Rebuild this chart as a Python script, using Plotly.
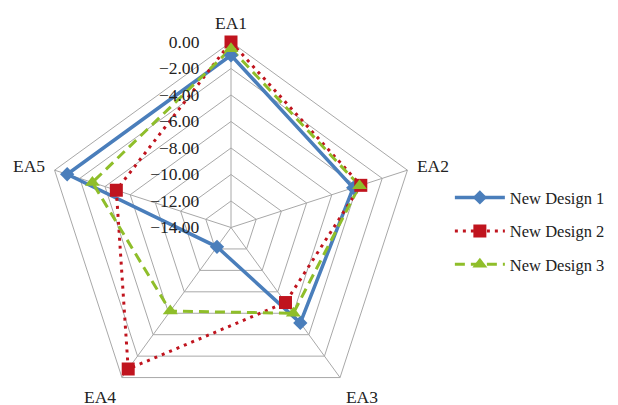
import plotly.graph_objects as go

categories = ["EA1", "EA2", "EA3", "EA4", "EA5"]
design1 = [-1.0, -4.3, -5.1, -12.2, -1.0]
design2 = [0.0, -3.7, -7.0, -0.8, -4.9]
design3 = [-0.5, -3.8, -6.0, -6.2, -3.0]
series_names = ["New Design 1", "New Design 2", "New Design 3"]
tick_vals = [0, -2, -4, -6, -8, -10, -12, -14]
r_range = [-14, 0]

FONT = "'Liberation Serif', 'Times New Roman', serif"
FS = 17.5
GRID = "#a8a8a8"

def closed(v):
    return list(v) + [v[0]]

styles = [
    dict(color="#4a7ebb", dash="solid", width=3.5, symbol="diamond", msize=11),
    dict(color="#c0141e", dash="3px,5px", width=3, symbol="square", msize=13),
    dict(color="#8fbe2a", dash="10px,6px", width=3, symbol="triangle-up", msize=13),
]

fig = go.Figure()
# lines on the pentagon-grid polar
for i, (name, vals, st) in enumerate(zip(series_names, [design1, design2, design3], styles)):
    fig.add_trace(go.Scatterpolar(
        r=closed(vals), theta=closed(categories), name=name,
        mode="lines+markers", legendgroup=f"g{i}",
        line=dict(color=st["color"], dash=st["dash"], width=st["width"]),
        marker=dict(symbol=st["symbol"], size=st["msize"], color=st["color"]),
    ))
# markers on an overlaid transparent polar with the same domain and scale
for i, (name, vals, st) in enumerate(zip(series_names, [design1, design2, design3], styles)):
    fig.add_trace(go.Scatterpolar(
        r=vals, theta=categories, name=name, subplot="polar2",
        mode="markers", legendgroup=f"g{i}", showlegend=False, cliponaxis=False,
        marker=dict(symbol=st["symbol"], size=st["msize"], color=st["color"]),
    ))

domain = dict(x=[0, 446 / 618], y=[0, 1])
fig.update_layout(
    width=618, height=405,
    margin=dict(l=0, r=0, t=34, b=0),
    paper_bgcolor="white", plot_bgcolor="white",
    font=dict(family=FONT, size=FS, color="#222"),
    polar=dict(
        domain=domain,
        gridshape="linear",
        bgcolor="white",
        angularaxis=dict(direction="clockwise", rotation=90,
                         linecolor=GRID, gridcolor=GRID, linewidth=1, gridwidth=1,
                         ticks="outside", ticklen=6, tickcolor="rgba(0,0,0,0)",
                         tickfont=dict(family=FONT, size=FS, color="#222")),
        radialaxis=dict(range=r_range, tickvals=tick_vals, tickformat=".2f",
                        angle=90, tickangle=90, side="counterclockwise",
                        showline=False, gridcolor=GRID, gridwidth=1,
                        ticks="outside", ticklen=25, tickcolor="rgba(0,0,0,0)",
                        tickfont=dict(family=FONT, size=FS, color="#222")),
    ),
    polar2=dict(
        domain=domain,
        gridshape="circular",
        bgcolor="rgba(0,0,0,0)",
        angularaxis=dict(direction="clockwise", rotation=90, showline=False,
                         showgrid=False, showticklabels=False, ticks=""),
        radialaxis=dict(range=r_range, visible=False),
    ),
    legend=dict(x=0.715, y=0.49, yanchor="middle", xanchor="left",
                font=dict(family=FONT, size=16.5, color="#222"),
                itemwidth=50, tracegroupgap=9),
    showlegend=True,
)

fig.write_html("out.html")
